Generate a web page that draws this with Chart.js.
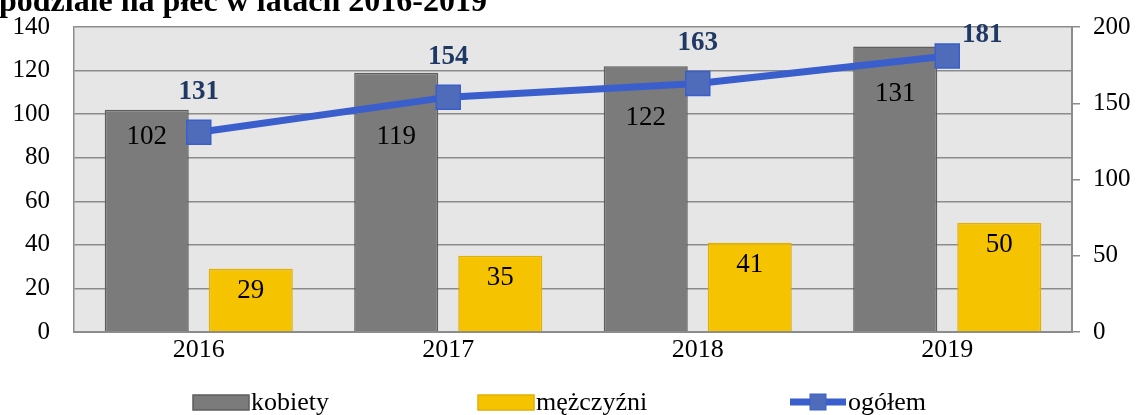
<!DOCTYPE html>
<html>
<head>
<meta charset="utf-8">
<script src="https://cdn.jsdelivr.net/npm/chart.js@4.4.1/dist/chart.umd.min.js"></script>
<style>
  html, body { margin: 0; padding: 0; background: #ffffff; }
  #wrap { width: 1139px; height: 415px; position: relative; }
</style>
</head>
<body>
<div id="wrap"><canvas id="chart" width="1139" height="415"></canvas></div>
<script>
// Data
const titleText = 'podziale na płeć w latach 2016-2019';
const years = ['2016', '2017', '2018', '2019'];
const kobiety = [102, 119, 122, 131];
const mezczyzni = [29, 35, 41, 50];
const ogolem = [131, 154, 163, 181];
const leftTickValues = [0, 20, 40, 60, 80, 100, 120, 140];
const rightTickValues = [0, 50, 100, 150, 200];

const SERIF = '"Liberation Serif", "Times New Roman", serif';
const GRID = '#8c8c8c';

// Light grey plot background
const plotBackground = {
  id: 'plotBackground',
  beforeDraw(chart) {
    const { ctx, chartArea: a } = chart;
    ctx.save();
    ctx.fillStyle = '#e6e6e6';
    ctx.fillRect(a.left, a.top, a.right - a.left, a.bottom - a.top);
    ctx.restore();
  }
};

// Heading (its upper part runs off the top edge)
const headingText = {
  id: 'headingText',
  afterDraw(chart) {
    const ctx = chart.ctx;
    ctx.save();
    ctx.font = 'bold 32px ' + SERIF;
    ctx.fillStyle = '#000000';
    ctx.textAlign = 'left';
    ctx.textBaseline = 'alphabetic';
    ctx.fillText(titleText, -1, 11);
    ctx.restore();
  }
};

function lineYAt(points, x) {
  for (let i = 0; i < points.length - 1; i++) {
    const a = points[i], b = points[i + 1];
    if (x >= a.x && x <= b.x) return a.y + (b.y - a.y) * (x - a.x) / (b.x - a.x);
  }
  return null;
}

// Value labels for bars and the total line
const valueLabels = {
  id: 'valueLabels',
  afterDatasetsDraw(chart) {
    const { ctx, chartArea } = chart;
    const barK = chart.getDatasetMeta(0).data;
    const barM = chart.getDatasetMeta(1).data;
    const linePts = chart.getDatasetMeta(2).data;
    ctx.save();
    ctx.textAlign = 'center';
    ctx.textBaseline = 'middle';
    ctx.fillStyle = '#000000';
    ctx.font = '27px ' + SERIF;
    barK.forEach((bar, i) => {
      let y = bar.y + 27;
      const ly = lineYAt(linePts, bar.x);
      if (ly !== null) y = Math.max(y, ly + 32);
      ctx.fillText(String(kobiety[i]), bar.x, y);
    });
    barM.forEach((bar, i) => {
      ctx.fillText(String(mezczyzni[i]), bar.x, bar.y + 22);
    });
    ctx.font = 'bold 27px ' + SERIF;
    ctx.fillStyle = '#1f3864';
    linePts.forEach((p, i) => {
      let x = p.x, y = p.y - 40;
      if (y < chartArea.top) { x = p.x + 35; y = p.y - 21; }
      ctx.fillText(String(ogolem[i]), x, y);
    });
    ctx.restore();
  }
};

// Legend row below the axis
const legendRow = {
  id: 'legendRow',
  afterDraw(chart) {
    const ctx = chart.ctx;
    const starts = [193, 478, 790];
    const boxW = 56;
    const y = 402;
    ctx.save();
    ctx.font = '26px ' + SERIF;
    ctx.textBaseline = 'middle';
    ctx.textAlign = 'left';
    chart.data.datasets.forEach((ds, i) => {
      const x = starts[i];
      if (ds.type === 'line') {
        ctx.strokeStyle = ds.borderColor;
        ctx.lineWidth = 7;
        ctx.beginPath();
        ctx.moveTo(x, y);
        ctx.lineTo(x + boxW, y);
        ctx.stroke();
        ctx.fillStyle = ds.pointBackgroundColor;
        ctx.strokeStyle = ds.pointBorderColor;
        ctx.lineWidth = 1;
        ctx.fillRect(x + boxW / 2 - 8, y - 8, 16, 16);
        ctx.strokeRect(x + boxW / 2 - 8, y - 8, 16, 16);
      } else {
        ctx.fillStyle = ds.backgroundColor;
        ctx.strokeStyle = ds.borderColor;
        ctx.lineWidth = 1.5;
        ctx.fillRect(x, y - 7, boxW, 15);
        ctx.strokeRect(x, y - 7, boxW, 15);
      }
      ctx.fillStyle = '#000000';
      ctx.fillText(ds.label, x + boxW + 2, y + 1);
    });
    ctx.restore();
  }
};

new Chart(document.getElementById('chart'), {
  data: {
    labels: years,
    datasets: [
      {
        type: 'bar', label: 'kobiety', data: kobiety, yAxisID: 'y',
        backgroundColor: '#7b7b7b', borderColor: '#5e5e5e', borderWidth: 1.5,
        categoryPercentage: 0.834, barPercentage: 0.808, order: 1
      },
      {
        type: 'bar', label: 'mężczyźni', data: mezczyzni, yAxisID: 'y',
        backgroundColor: '#f5c300', borderColor: '#e2b000', borderWidth: 1.5,
        categoryPercentage: 0.834, barPercentage: 0.808, order: 1
      },
      {
        type: 'line', label: 'ogółem', data: ogolem, yAxisID: 'y2',
        borderColor: '#3a5fcd', borderWidth: 7, tension: 0,
        pointStyle: 'rect', pointRadius: 17, pointHoverRadius: 17,
        pointBackgroundColor: '#4f6cbb', pointBorderColor: '#3a5fcd', pointBorderWidth: 1.5,
        order: 0
      }
    ]
  },
  options: {
    responsive: false,
    animation: false,
    events: [],
    layout: { padding: { top: 27, left: 0, right: 0, bottom: 0 } },
    plugins: {
      legend: { display: false },
      title: { display: false },
      tooltip: { enabled: false }
    },
    scales: {
      x: {
        grid: { display: false, drawTicks: false },
        border: { display: true, color: GRID, width: 2 },
        ticks: { color: '#000000', font: { family: SERIF, size: 26 }, padding: 3, maxRotation: 0 },
        afterFit(scale) { scale.height = 83; }
      },
      y: {
        position: 'left', min: 0, max: 140,
        afterBuildTicks(scale) { scale.ticks = leftTickValues.map(v => ({ value: v })); },
        grid: { color: GRID, lineWidth: 1.5, drawTicks: true, tickLength: 22, tickColor: 'rgba(0,0,0,0)' },
        border: { display: true, color: GRID, width: 1.5 },
        ticks: { color: '#000000', font: { family: SERIF, size: 25, lineHeight: 1 }, padding: 2 },
        afterFit(scale) { scale.width = 74; }
      },
      y2: {
        position: 'right', min: 0, max: 200,
        afterBuildTicks(scale) { scale.ticks = rightTickValues.map(v => ({ value: v })); },
        grid: { drawOnChartArea: false, drawTicks: true, tickLength: 8, color: GRID, lineWidth: 1.5 },
        border: { display: true, color: GRID, width: 2 },
        ticks: { color: '#000000', font: { family: SERIF, size: 25, lineHeight: 1 }, padding: 13 },
        afterFit(scale) { scale.width = 67; }
      }
    }
  },
  plugins: [plotBackground, valueLabels, legendRow, headingText]
});
</script>
</body>
</html>
